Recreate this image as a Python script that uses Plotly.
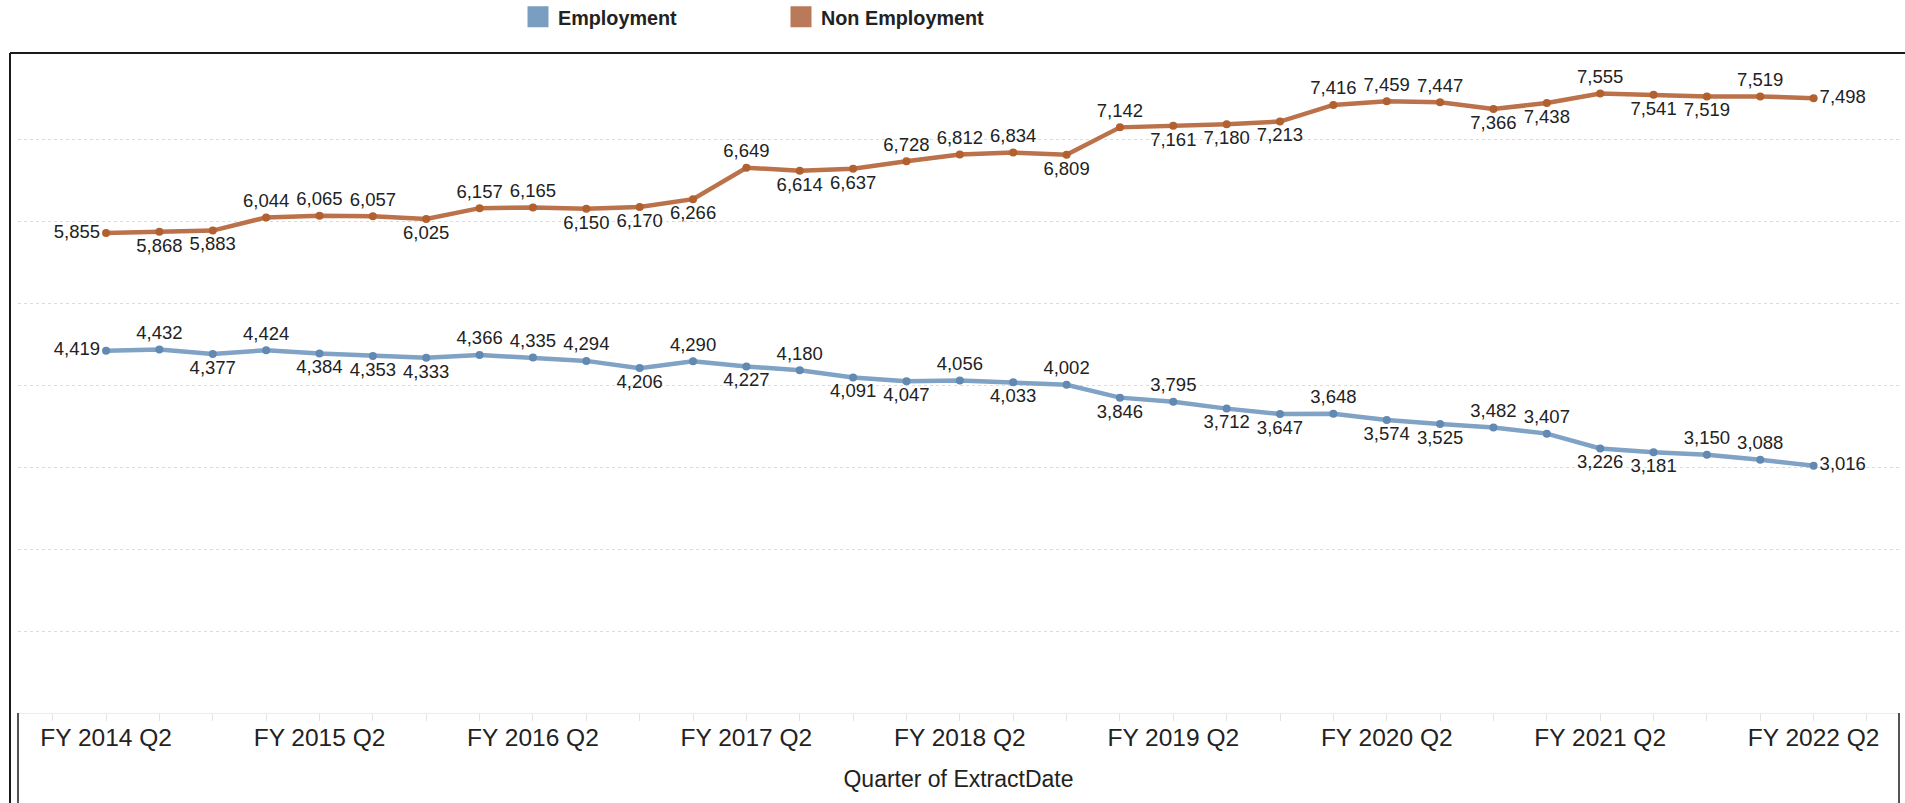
import plotly.graph_objects as go

quarters = [
    "FY 2014 Q2", "FY 2014 Q3", "FY 2014 Q4", "FY 2015 Q1", "FY 2015 Q2", "FY 2015 Q3",
    "FY 2015 Q4", "FY 2016 Q1", "FY 2016 Q2", "FY 2016 Q3", "FY 2016 Q4", "FY 2017 Q1",
    "FY 2017 Q2", "FY 2017 Q3", "FY 2017 Q4", "FY 2018 Q1", "FY 2018 Q2", "FY 2018 Q3",
    "FY 2018 Q4", "FY 2019 Q1", "FY 2019 Q2", "FY 2019 Q3", "FY 2019 Q4", "FY 2020 Q1",
    "FY 2020 Q2", "FY 2020 Q3", "FY 2020 Q4", "FY 2021 Q1", "FY 2021 Q2", "FY 2021 Q3",
    "FY 2021 Q4", "FY 2022 Q1", "FY 2022 Q2",
]

employment = [
    4419, 4432, 4377, 4424, 4384, 4353, 4333, 4366, 4335, 4294, 4206, 4290,
    4227, 4180, 4091, 4047, 4056, 4033, 4002, 3846, 3795, 3712, 3647, 3648,
    3574, 3525, 3482, 3407, 3226, 3181, 3150, 3088, 3016,
]

non_employment = [
    5855, 5868, 5883, 6044, 6065, 6057, 6025, 6157, 6165, 6150, 6170, 6266,
    6649, 6614, 6637, 6728, 6812, 6834, 6809, 7142, 7161, 7180, 7213, 7416,
    7459, 7447, 7366, 7438, 7555, 7541, 7519, 7519, 7498,
]

tick_labels = quarters[::4]

# label placement styles (T=top, B=bottom, L=left, R=right)
emp_pos = "L T B T B B B T T T B T B T B B T B T B T B B T B B T T B B T T R".split()
non_pos = "L B B T T T B T T B B B T B B T T T B T B B B T T T B B T B B T R".split()
pos_map = {"T": "top center", "B": "bottom center", "L": "middle left", "R": "middle right"}

FONT = "Arial, Liberation Sans, sans-serif"
x_idx = list(range(len(quarters)))

fig = go.Figure()

fig.add_trace(go.Scatter(
    x=x_idx, y=employment, mode="lines+markers+text", name="Employment",
    line=dict(color="#7fa2c5", width=4.5),
    marker=dict(color="#6189b2", size=8),
    text=[f"{v:,}" for v in employment],
    textposition=[pos_map[p] for p in emp_pos],
    textfont=dict(family=FONT, size=18.5, color="#222"),
    customdata=quarters, hovertemplate="%{customdata}: %{y:,}<extra>Employment</extra>",
    showlegend=False,
))
fig.add_trace(go.Scatter(
    x=x_idx, y=non_employment, mode="lines+markers+text", name="Non Employment",
    line=dict(color="#bb7149", width=4.5),
    marker=dict(color="#b1602f", size=8),
    text=[f"{v:,}" for v in non_employment],
    textposition=[pos_map[p] for p in non_pos],
    textfont=dict(family=FONT, size=18.5, color="#222"),
    customdata=quarters, hovertemplate="%{customdata}: %{y:,}<extra>Non Employment</extra>",
    showlegend=False,
))

# legend swatches
for nm, col in [("Employment", "#7a9ec0"), ("Non Employment", "#ba7959")]:
    fig.add_trace(go.Scatter(
        x=[None], y=[None], mode="markers", name=nm,
        marker=dict(symbol="square", size=16, color=col, line=dict(width=5, color=col)),
    ))

W, H = 1905, 803
L, R, T, B = 18, 6, 57, 90
pw, ph = W - L - R, H - T - B

def px_x(p):
    return (p - L) / pw

def px_y(p):
    return (H - B - p) / ph

line_col = "#1a1a1a"
shapes = [
    dict(type="line", xref="paper", yref="paper", x0=px_x(10), x1=px_x(1905), y0=px_y(53), y1=px_y(53),
         line=dict(color=line_col, width=2)),
    dict(type="line", xref="paper", yref="paper", x0=px_x(10), x1=px_x(10), y0=px_y(53), y1=px_y(803),
         line=dict(color=line_col, width=2)),
    dict(type="line", xref="paper", yref="paper", x0=px_x(18), x1=px_x(18), y0=px_y(713), y1=px_y(803),
         line=dict(color=line_col, width=1.5)),
    dict(type="line", xref="paper", yref="paper", x0=px_x(1899), x1=px_x(1899), y0=px_y(713), y1=px_y(803),
         line=dict(color=line_col, width=1.5)),
]

fig.update_layout(
    width=W, height=H,
    margin=dict(l=L, r=R, t=T, b=B, pad=0, autoexpand=False),
    paper_bgcolor="white", plot_bgcolor="white",
    font=dict(family=FONT, color="#222"),
    shapes=shapes,
    legend=dict(
        orientation="h", x=px_x(518), xanchor="left", y=px_y(17), yanchor="middle",
        font=dict(family=FONT, size=19.8, color="#222", weight="bold"),
        entrywidth=218, entrywidthmode="pixels", bgcolor="rgba(0,0,0,0)",
    ),
    xaxis=dict(
        range=[-1.65, 33.6],
        tickmode="array", tickvals=x_idx[::4], ticktext=tick_labels,
        ticks="outside", ticklen=7, tickcolor="#e3e3e3",
        minor=dict(dtick=1, tick0=0, ticks="outside", ticklen=7, tickcolor="#e3e3e3", showgrid=False),
        showgrid=False, zeroline=False,
        showline=True, linecolor="#ececec", linewidth=1,
        ticklabelstandoff=-4,
        tickfont=dict(family=FONT, size=24.5, color="#222"),
        title=dict(text="Quarter of ExtractDate", font=dict(family=FONT, size=23, color="#222"), standoff=20),
        fixedrange=True,
    ),
    yaxis=dict(
        range=[0, 8000], dtick=1000, showticklabels=False,
        showgrid=True, gridcolor="#dcdcdc", griddash="dot", gridwidth=1,
        zeroline=False, fixedrange=True,
    ),
)

fig.write_html(
    "out.html",
    config={"displayModeBar": False},
    post_script="document.body.style.margin='0';document.body.style.overflow='hidden';",
)
